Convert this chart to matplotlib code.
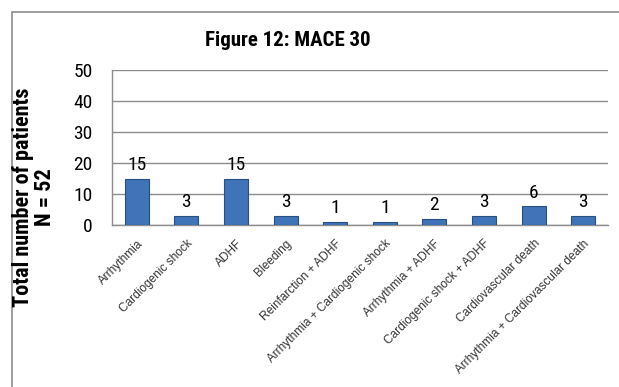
import matplotlib
matplotlib.use("Agg")
import matplotlib.pyplot as plt
from matplotlib.patches import Rectangle

# data
categories = ["Arrhythmia", "Cardiogenic shock", "ADHF", "Bleeding",
              "Reinfarction + ADHF", "Arrhythmia + Cardiogenic shock",
              "Arrhythmia + ADHF", "Cardiogenic shock + ADHF",
              "Cardiovascular death", "Arrhythmia + Cardiovascular death"]
counts = [15, 3, 15, 3, 1, 1, 2, 3, 6, 3]
yticks = [0, 10, 20, 30, 40, 50]

narrow = ["Roboto Condensed", "Liberation Sans"]

fig = plt.figure(figsize=(6.19, 3.87), dpi=100)
# outer chart frame (cropped at right and bottom)
fig.patches.append(Rectangle((12 / 619, -0.1), 1.2, 1 - 12 / 387 + 0.1,
                             transform=fig.transFigure, fill=False,
                             edgecolor="#8c8c8c", linewidth=1.2))

ax = fig.add_axes([112 / 619, 1 - 225 / 387, (608 - 112) / 619, (225 - 70) / 387])
x = range(len(categories))
bars = ax.bar(x, counts, width=0.48, color="#3f74b8", edgecolor="#274f80",
              linewidth=0.8, zorder=3)
for b, v in zip(bars, counts):
    ax.text(b.get_x() + b.get_width() / 2, v + 1.5, str(v), ha="center",
            va="bottom", fontsize=14, family=narrow, zorder=4)

ax.set_ylim(0, 50)
ax.set_xlim(-0.5, len(categories) - 0.5)
ax.set_yticks(yticks)
ax.set_yticklabels([str(t) for t in yticks], fontsize=14, family=narrow)
ax.yaxis.grid(True, color="#8c8c8c", linewidth=1.0, zorder=0)
ax.tick_params(axis="y", length=0, pad=14)
ax.tick_params(axis="x", length=0, pad=9, colors="#333333")
ax.set_xticks(list(x))
ax.set_xticklabels(categories, rotation=45, ha="right", rotation_mode="anchor",
                   fontsize=8.6, family="Liberation Sans")
for s in ["top", "right"]:
    ax.spines[s].set_visible(False)
for s in ["left", "bottom"]:
    ax.spines[s].set_color("#8c8c8c")
    ax.spines[s].set_linewidth(1.0)

fig.text(288 / 619, 1 - 40 / 387, "Figure 12: MACE 30", ha="center",
         va="center", fontsize=15, fontweight="bold", family=narrow)
fig.text(34 / 619, 1 - 197 / 387, "Total number of patients\nN = 52",
         ha="center", va="center", rotation=90, fontsize=16,
         fontweight="bold", family=narrow, linespacing=0.95)

fig.savefig("out.png", dpi=100)
